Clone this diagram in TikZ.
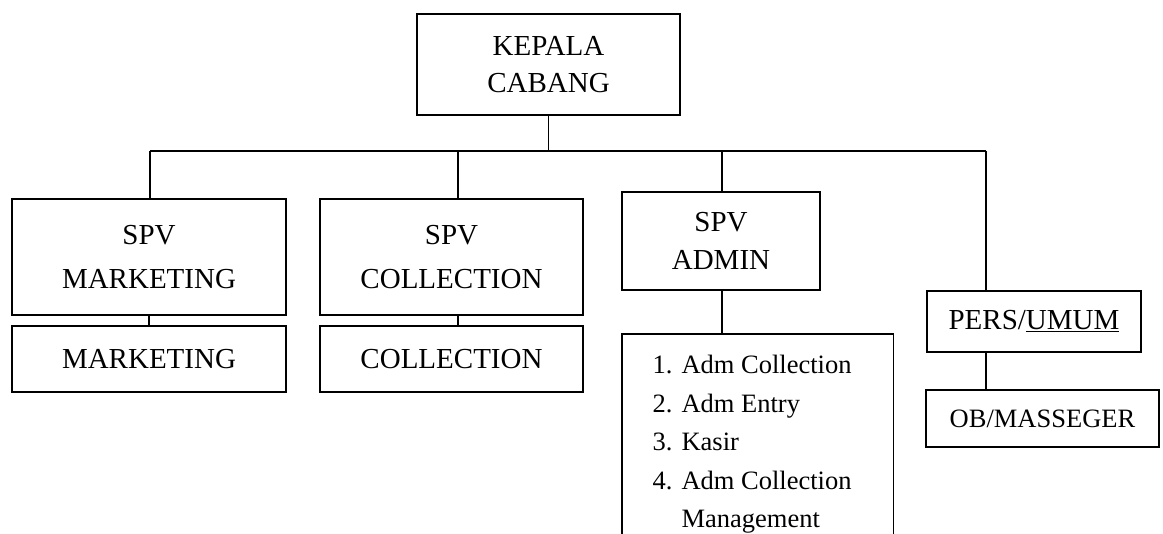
\documentclass[tikz,border=0pt]{standalone}
\usepackage{fontspec}
\setmainfont{Liberation Serif}
\begin{document}
\begin{tikzpicture}[x=1pt,y=-1pt,line width=1.1pt,
  box/.style={draw,rectangle,inner sep=0pt,align=center,font=\fontsize{29}{37}\selectfont},
  link/.style={line width=1.1pt}]
\useasboundingbox (0,0) rectangle (1163,534);
% boxes
\node[box,minimum width=263pt,minimum height=101pt,font=\fontsize{29}{37.4}\selectfont] (kc) at (548.5,64.5) {KEPALA\\CABANG};
\node[box,minimum width=274pt,minimum height=116pt,font=\fontsize{29}{44.7}\selectfont] (sm) at (149,257) {SPV\\MARKETING};
\node[box,minimum width=263pt,minimum height=116pt,font=\fontsize{29}{44.7}\selectfont] (sc) at (451.5,257) {SPV\\COLLECTION};
\node[box,minimum width=198pt,minimum height=98pt,font=\fontsize{29}{38.3}\selectfont] (sa) at (721,241) {SPV\\ADMIN};
\node[box,minimum width=274pt,minimum height=66pt] (m) at (149,359) {MARKETING};
\node[box,minimum width=263pt,minimum height=66pt] (c) at (451.5,359) {COLLECTION};
\node[box,minimum width=214pt,minimum height=61pt] (pu) at (1034,321.5) {PERS/\underline{UMUM}};
\node[box,minimum width=233pt,minimum height=57pt,font=\fontsize{26.5}{32}\selectfont] (ob) at (1042.5,418.5) {OB/MASSEGER};
% admin list box (open at the bottom)
\node[rectangle,inner sep=0pt,minimum width=270pt,minimum height=200pt,anchor=north west] (admbox) at (622,334) {};
\draw[link] (admbox.south west) -- (admbox.north west) -- (admbox.north east) -- (admbox.south east);
\node[anchor=north west,align=left,inner sep=0pt,font=\fontsize{26.5}{38.6}\selectfont] (admlist) at (652,354.5) {%
\makebox[29pt][l]{1.}Adm Collection\\
\makebox[29pt][l]{2.}Adm Entry\\
\makebox[29pt][l]{3.}Kasir\\
\makebox[29pt][l]{4.}Adm Collection\\
\hspace*{29pt}Management};
% connectors
\coordinate (busL) at (150,151);
\coordinate (b2) at (458,151);
\coordinate (b3) at (722,151);
\coordinate (busR) at (986,151);
\draw[link] (kc.south) -- (kc.south |- busL);
\draw[link] (busL) -- (busR);
\draw[link] (busL) -- (busL |- sm.north);
\draw[link] (b2) -- (b2 |- sc.north);
\draw[link] (b3) -- (b3 |- sa.north);
\draw[link] (busR) -- (busR |- pu.north);
\draw[link] (sm.south) -- (m.north);
\draw[link] (b2 |- sc.south) -- (b2 |- c.north);
\draw[link] (b3 |- sa.south) -- (b3 |- admbox.north);
\draw[link] (busR |- pu.south) -- (busR |- ob.north);
\end{tikzpicture}
\end{document}
